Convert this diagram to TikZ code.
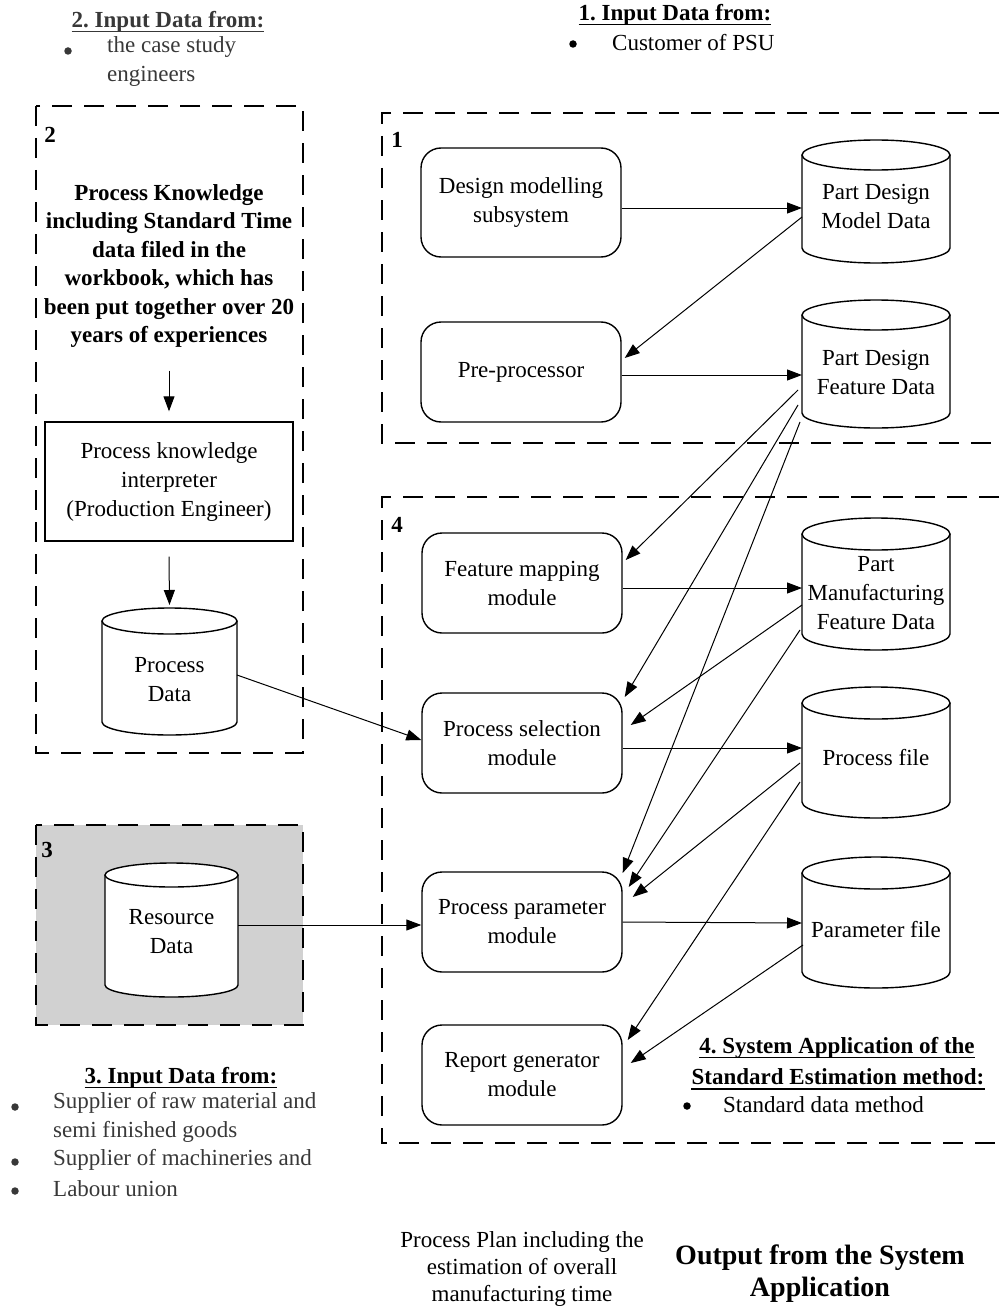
\documentclass[tikz,border=0pt]{standalone}
\usepackage{fontspec}
\setmainfont{Liberation Serif}
\usetikzlibrary{arrows.meta,calc}
\frenchspacing

\newcommand\mainsz{\fontsize{23}{29}\selectfont}
\newcommand\boxsz{\fontsize{23}{28.4}\selectfont}
\newcommand\outsz{\fontsize{28}{32}\selectfont}

% data store drawn as a cylinder: name, centre x, top y, bottom y, x radius, y radius, text, text drop
\newcommand{\datastore}[8]{%
  \node[cylbody, minimum width={2*#5*1pt}, minimum height={(#4-#3)*1pt}] (#1) at (#2,{-(#3+#4)/2}) {};
  \filldraw[cylline] ([yshift=-#6pt]#1.north west) -- ([yshift=#6pt]#1.south west)
     arc[start angle=180, end angle=360, x radius=#5pt, y radius=#6pt] -- ([yshift=-#6pt]#1.north east);
  \filldraw[cylline] ([yshift=-#6pt]#1.north) ellipse[x radius=#5pt, y radius=#6pt];
  \node[cyltext] (#1-t) at ([yshift=-#8pt]#1.center) {#7};
}

\begin{document}
\begin{tikzpicture}[x=1pt,y=1pt,
  module/.style={draw, rounded corners=20pt, line width=1.4pt, minimum width=200pt,
    minimum height=100pt, align=center, inner sep=0pt, font=\mainsz},
  plainbox/.style={draw, line width=1.4pt, align=center, inner sep=0pt, font=\mainsz},
  cylbody/.style={draw=none, inner sep=0pt, outer sep=0pt},
  cylline/.style={line width=1.4pt, fill=white},
  cyltext/.style={align=center, inner sep=0pt, font=\mainsz},
  groupbox/.style={line width=1.8pt, dash pattern=on 20pt off 12pt},
  arr/.style={line width=1pt, -{Triangle[length=15pt,width=11pt]}},
  txt/.style={inner sep=0pt, font=\mainsz},
  head/.style={inner sep=0pt, font=\mainsz\bfseries},
  faded/.style={text=black!78},
  dot/.style={circle, fill, inner sep=0pt, minimum size=7.5pt},
  uline/.style={line width=1.5pt}
]
\useasboundingbox (0,0) rectangle (999,-1308);

% ---- group frames ----
\fill[black!18] (36,-825) rectangle (303,-1025);
\draw[groupbox] (36,-106) rectangle (303,-753);
\draw[groupbox] (36,-825) rectangle (303,-1025);
\draw[groupbox] (999,-113) -| (382,-443) -- (999,-443);
\draw[groupbox] (999,-497) -| (382,-1143) -- (999,-1143);

\node[head] (n1) at (397,-140) {1};
\node[head] (n2) at (50,-135) {2};
\node[head] (n3) at (47,-850) {3};
\node[head] (n4) at (397,-525) {4};

% ---- group 1 and 4: modules ----
\node[module, minimum height=109pt] (dms) at (521,-202.5) {Design modelling\\subsystem};
\node[module] (pre) at (521,-372) {Pre-processor};
\node[module] (fmm) at (522,-583) {Feature mapping\\module};
\node[module] (psm) at (522,-743) {Process selection\\module};
\node[module] (ppm) at (522,-922) {Process parameter\\module};
\node[module] (rgm) at (522,-1075) {Report generator\\module};

% ---- data stores ----
\datastore{pdm}{876}{140}{263}{74}{15}{Part Design\\Model Data}{4.5}
\datastore{pdf}{876}{300}{428}{74}{15}{Part Design\\Feature Data}{8.5}
\datastore{mfd}{876}{518}{650}{74}{16}{Part\\Manufacturing\\Feature Data}{9}
\datastore{pf}{876}{687}{818}{74}{16}{Process file}{5.5}
\datastore{parf}{876}{857}{988}{74}{16}{Parameter file}{7.5}
\datastore{pd}{169.5}{608}{735}{67.5}{13}{Process\\Data}{8.5}
\datastore{rd}{171.5}{863}{997}{66.5}{12}{Resource\\Data}{2}

% ---- group 2: process knowledge ----
\node[align=center, inner sep=0pt, font=\boxsz\bfseries] (kn) at (169,-266)
  {Process Knowledge\\including Standard Time\\data filed in the\\workbook, which has\\been put together over 20\\years of experiences};
\node[plainbox, minimum width=248pt, minimum height=119pt] (pki) at (169,-481.5)
  {Process knowledge\\interpreter\\(Production Engineer)};
\draw[arr] ([yshift=-23pt]kn.south) -- ([yshift=10pt]pki.north);
\draw[arr] ([yshift=-15pt]pki.south) -- ([yshift=3pt]pd.north);

% ---- connectors ----
\draw[arr] ([yshift=-5.5pt]dms.east) -- ([yshift=-6.5pt]pdm.west);
\draw[arr] ([yshift=-15.5pt]pdm.west) -- ([xshift=3pt,yshift=14pt]pre.east);
\draw[arr] ([yshift=-3pt]pre.east) -- ([yshift=-11pt]pdf.west);
\draw[arr] ([xshift=-4pt,yshift=-26pt]pdf.west) -- ([xshift=3pt,yshift=23pt]fmm.east);
\draw[arr] ([xshift=-4pt,yshift=-41pt]pdf.west) -- ([xshift=2pt,yshift=46pt]psm.east);
\draw[arr] ([xshift=-2pt,yshift=-58pt]pdf.west) -- ([yshift=49pt]ppm.east);
\draw[arr] ([yshift=-5pt]fmm.east) -- ([yshift=-4pt]mfd.west);
\draw[arr] ([yshift=-21pt]mfd.west) -- ([xshift=8pt,yshift=18pt]psm.east);
\draw[arr] ([xshift=-2pt,yshift=-46pt]mfd.west) -- ([xshift=6pt,yshift=35pt]ppm.east);
\draw[arr] ([yshift=-5pt]psm.east) -- ([yshift=4.5pt]pf.west);
\draw[arr] ([xshift=-2pt,yshift=-10.5pt]pf.west) -- ([xshift=10pt,yshift=25pt]ppm.east);
\draw[arr] ([xshift=-2pt,yshift=-29.5pt]pf.west) -- ([xshift=5pt,yshift=35pt]rgm.east);
\draw[arr] (ppm.east) -- ([yshift=-0.5pt]parf.west);
\draw[arr] ([xshift=1pt,yshift=-22.5pt]parf.west) -- ([xshift=8pt,yshift=12pt]rgm.east);
\draw[arr] ([yshift=-3.5pt]pd.east) -- ([yshift=3pt]psm.west);
\draw[arr] ([yshift=5pt]rd.east) -- ([yshift=-3pt]ppm.west);

% ---- input descriptions ----
\node[head] (h1) at (675,-15) {1. Input Data from:};
\draw[uline] ([yshift=-4pt]h1.base west) -- ([yshift=-4pt]h1.base east);
\node[dot] (b1) at (573,-44) {};
\node[txt, anchor=west] (c1) at (612,-43) {Customer of PSU};

\node[head, faded] (h2) at (168,-22) {2. Input Data from:};
\draw[uline, black!78] ([yshift=-4pt]h2.base west) -- ([yshift=-4pt]h2.base east);
\node[dot, black!78] (b2) at (68,-51) {};
\node[txt, faded, anchor=north west, align=left] (c2) at (107,-36) {the case study\\engineers};

\node[head] (h3) at (181,-1078) {3. Input Data from:};
\draw[uline] ([yshift=-4pt]h3.base west) -- ([yshift=-4pt]h3.base east);
\node[dot, black!78] (b3a) at (15,-1107) {};
\node[txt, faded, anchor=north west, align=left] (c3a) at (53,-1092) {Supplier of raw material and\\semi finished goods};
\node[dot, black!78] (b3b) at (15,-1162) {};
\node[txt, faded, anchor=west] (c3b) at (53,-1160) {Supplier of machineries and};
\node[dot, black!78] (b3c) at (15,-1191) {};
\node[txt, faded, anchor=west] (c3c) at (53,-1189) {Labour union};

\node[head] (h4a) at (837,-1048) {4. System Application of the};
\draw[uline] ([yshift=-4pt]h4a.base west) -- ([yshift=-4pt]h4a.base east);
\node[head] (h4b) at (838,-1077) {Standard Estimation method:};
\draw[uline] ([yshift=-4pt]h4b.base west) -- ([yshift=-4pt]h4b.base east);
\node[dot] (b4) at (687,-1106) {};
\node[txt, anchor=west] (c4) at (723,-1105) {Standard data method};

% ---- output ----
\node[align=center, inner sep=0pt, font=\fontsize{23}{27}\selectfont] (plan) at (522,-1269)
  {Process Plan including the\\estimation of overall\\manufacturing time};
\node[align=center, inner sep=0pt, font=\outsz\bfseries] (out) at (820,-1274)
  {Output from the System\\Application};
\end{tikzpicture}
\end{document}
